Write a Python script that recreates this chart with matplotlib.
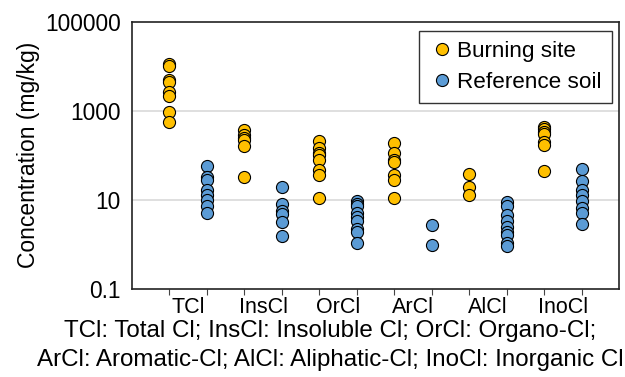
import matplotlib
matplotlib.use("Agg")
import matplotlib.pyplot as plt
from matplotlib.ticker import FixedLocator, NullFormatter

plt.rcParams['font.family'] = ['Liberation Sans', 'DejaVu Sans']

categories = ["TCl", "InsCl", "OrCl", "ArCl", "AlCl", "InoCl"]

burning = [
    [11500, 10000, 5000, 4500, 2700, 2200, 950, 550],
    [380, 290, 250, 220, 160, 33],
    [210, 150, 115, 100, 79, 47, 36, 10.9],
    [185, 115, 80, 72, 36, 28, 10.9],
    [38, 19, 13],
    [440, 390, 330, 310, 200, 170, 45],
]
reference = [
    [58, 32, 28, 17, 13, 10, 7.3, 5.0],
    [19, 8.1, 5.5, 4.9, 3.1, 1.5],
    [9.2, 8.0, 7.1, 5.0, 4.0, 3.4, 2.2, 1.9, 1.07],
    [2.75, 0.98],
    [8.7, 7.3, 4.6, 3.4, 2.5, 1.9, 1.6, 1.07, 0.93],
    [49, 27, 17, 13, 9.2, 6.5, 5.0, 2.9],
]

yticks = [0.1, 10, 1000, 100000]
caption = ("TCl: Total Cl; InsCl: Insoluble Cl; OrCl: Organo-Cl;\n"
           "ArCl: Aromatic-Cl; AlCl: Aliphatic-Cl; InoCl: Inorganic Cl")

fig = plt.figure(figsize=(6.25, 3.77), dpi=100)
ax = fig.add_axes([0.2112, 0.2342, 0.7792, 0.7074])

for i, (b, r) in enumerate(zip(burning, reference)):
    xb = 2 * i + 1
    xr = 2 * i + 2
    ax.plot([xb] * len(b), b, 'o', ms=8.7, mfc='#FFC000', mec='black', mew=0.8,
            label='Burning site' if i == 0 else None, zorder=3)
    ax.plot([xr] * len(r), r, 'o', ms=8.7, mfc='#5B9BD5', mec='black', mew=0.8,
            label='Reference soil' if i == 0 else None, zorder=3)

ax.set_yscale('log')
ax.set_ylim(0.1, 100000)
ax.set_xlim(0, 13)
ax.yaxis.set_major_locator(FixedLocator(yticks))
ax.set_yticklabels([f"{v:g}" for v in yticks])
ax.yaxis.set_minor_locator(FixedLocator([]))
ax.tick_params(axis='y', length=0, labelsize=16.4, pad=8)
for v in [10, 1000]:
    ax.axhline(v, color='#d9d9d9', lw=1.2, zorder=1)

# ticks at each marker column, category names in between
ax.xaxis.set_major_locator(FixedLocator(range(1, 13)))
ax.xaxis.set_major_formatter(NullFormatter())
ax.xaxis.set_minor_locator(FixedLocator([2 * i + 1.5 for i in range(len(categories))]))
ax.set_xticklabels(categories, minor=True)
ax.tick_params(axis='x', which='major', direction='out', length=4, width=0.8, color='#444444')
ax.tick_params(axis='x', which='minor', length=0, labelsize=15.5, pad=6)

for s in ax.spines.values():
    s.set_linewidth(1.2)
    s.set_color('#222222')

ax.set_ylabel("Concentration (mg/kg)", fontsize=16.5, labelpad=4)

leg = ax.legend(loc='upper right', fontsize=16.2, frameon=True, fancybox=False,
                edgecolor='black', handletextpad=0.15, borderpad=0.45,
                labelspacing=0.45, handlelength=1.1, borderaxespad=0,
                bbox_to_anchor=(0.9856, 0.967))
leg.get_frame().set_linewidth(1.0)

fig.text(0.528, 0.083, caption, ha='center', va='center', fontsize=17.4, linespacing=1.38)

fig.savefig("out.png", dpi=100)
